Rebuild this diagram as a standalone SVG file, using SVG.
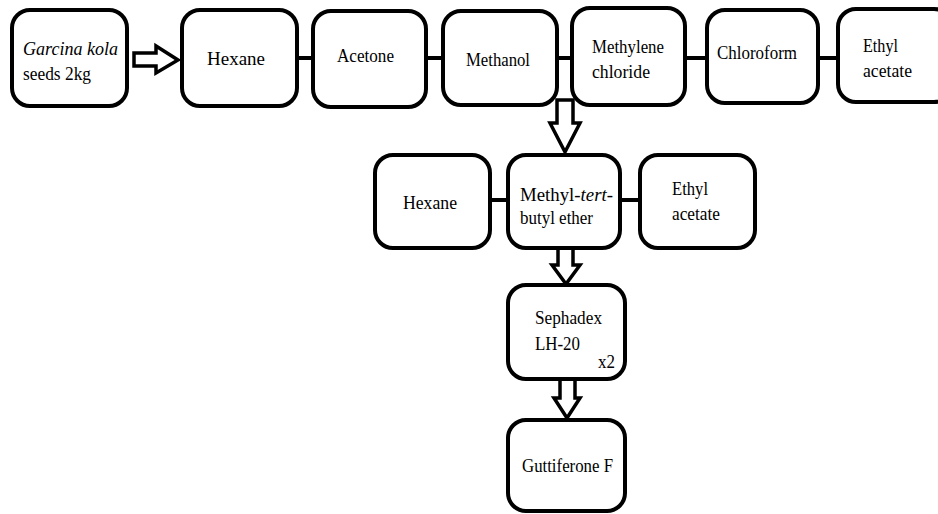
<svg xmlns="http://www.w3.org/2000/svg" width="938" height="514" viewBox="0 0 938 514">
<style>
.box{fill:#fff;stroke:#000;stroke-width:4}
.t{font-size:19px;fill:#000}
.i{font-style:italic}
.c{stroke:#000;stroke-width:4;fill:none}
.ar{fill:#fff;stroke:#000;stroke-width:3.5;stroke-linejoin:miter}
</style>
<rect width="938" height="514" fill="#fff"/>
<g id="connectors">
<line class="c" x1="297" y1="58" x2="313" y2="58"/>
<line class="c" x1="426" y1="58" x2="443" y2="58"/>
<line class="c" x1="557" y1="58" x2="572" y2="58"/>
<line class="c" x1="685" y1="58" x2="707" y2="58"/>
<line class="c" x1="818" y1="58" x2="838" y2="58"/>
<line class="c" x1="490" y1="200" x2="508" y2="200"/>
<line class="c" x1="620" y1="200" x2="640" y2="200"/>
<polygon class="ar" points="134,53 156,53 156,46 178,60 156,73 156,66 134,66"/>
<polygon class="ar" points="557,100 573,100 573,123 580,123 565,152 550,123 557,123"/>
<polygon class="ar" points="558,248 573,248 573,265 580,265 566,284 552,265 558,265"/>
<polygon class="ar" points="560,379 575,379 575,398 580,398 567,418 554,398 560,398"/>
</g>
<g font-family="'Liberation Serif', 'DejaVu Serif', serif">
<g id="garcina"><rect class="box" x="12" y="10" width="115" height="96" rx="18"/>
<text class="t i" x="23" y="55" textLength="95" lengthAdjust="spacingAndGlyphs">Garcina kola</text><text class="t" x="23" y="80" textLength="68" lengthAdjust="spacingAndGlyphs">seeds 2kg</text></g>
<g id="hexane1"><rect class="box" x="182" y="10" width="115" height="96" rx="18"/>
<text class="t" x="207" y="65" textLength="58" lengthAdjust="spacingAndGlyphs">Hexane</text></g>
<g id="acetone"><rect class="box" x="313" y="11" width="113" height="96" rx="18"/>
<text class="t" x="337" y="62" textLength="57" lengthAdjust="spacingAndGlyphs">Acetone</text></g>
<g id="methanol"><rect class="box" x="443" y="11" width="114" height="94" rx="18"/>
<text class="t" x="466" y="66" textLength="64" lengthAdjust="spacingAndGlyphs">Methanol</text></g>
<g id="methylene"><rect class="box" x="572" y="8" width="113" height="97" rx="18"/>
<text class="t" x="592" y="53" textLength="72" lengthAdjust="spacingAndGlyphs">Methylene</text><text class="t" x="592" y="78" textLength="58" lengthAdjust="spacingAndGlyphs">chloride</text></g>
<g id="chloroform"><rect class="box" x="707" y="10" width="111" height="93" rx="18"/>
<text class="t" x="717" y="59" textLength="80" lengthAdjust="spacingAndGlyphs">Chloroform</text></g>
<g id="ethyl1"><rect class="box" x="838" y="9" width="114" height="93" rx="18"/>
<text class="t" x="863" y="52" textLength="35" lengthAdjust="spacingAndGlyphs">Ethyl</text><text class="t" x="863" y="77" textLength="49" lengthAdjust="spacingAndGlyphs">acetate</text></g>
<g id="hexane2"><rect class="box" x="375" y="155" width="115" height="93" rx="18"/>
<text class="t" x="403" y="209" textLength="54" lengthAdjust="spacingAndGlyphs">Hexane</text></g>
<g id="mtbe"><rect class="box" x="508" y="155" width="112" height="93" rx="18"/>
<text class="t" x="520" y="201" textLength="93" lengthAdjust="spacingAndGlyphs">Methyl-<tspan class="i">tert</tspan>-</text><text class="t" x="520" y="224" textLength="73" lengthAdjust="spacingAndGlyphs">butyl ether</text></g>
<g id="ethyl2"><rect class="box" x="640" y="155" width="115" height="93" rx="18"/>
<text class="t" x="672" y="195" textLength="36" lengthAdjust="spacingAndGlyphs">Ethyl</text><text class="t" x="672" y="220" textLength="48" lengthAdjust="spacingAndGlyphs">acetate</text></g>
<g id="sephadex"><rect class="box" x="508" y="285" width="117" height="94" rx="18"/>
<text class="t" x="535" y="324" textLength="67" lengthAdjust="spacingAndGlyphs">Sephadex</text><text class="t" x="535" y="350" textLength="45" lengthAdjust="spacingAndGlyphs">LH-20</text><text class="t" x="598" y="368" textLength="17" lengthAdjust="spacingAndGlyphs">x2</text></g>
<g id="guttiferone"><rect class="box" x="508" y="420" width="117" height="91" rx="18"/>
<text class="t" x="522" y="472" textLength="91" lengthAdjust="spacingAndGlyphs">Guttiferone F</text></g>
</g>
</svg>
